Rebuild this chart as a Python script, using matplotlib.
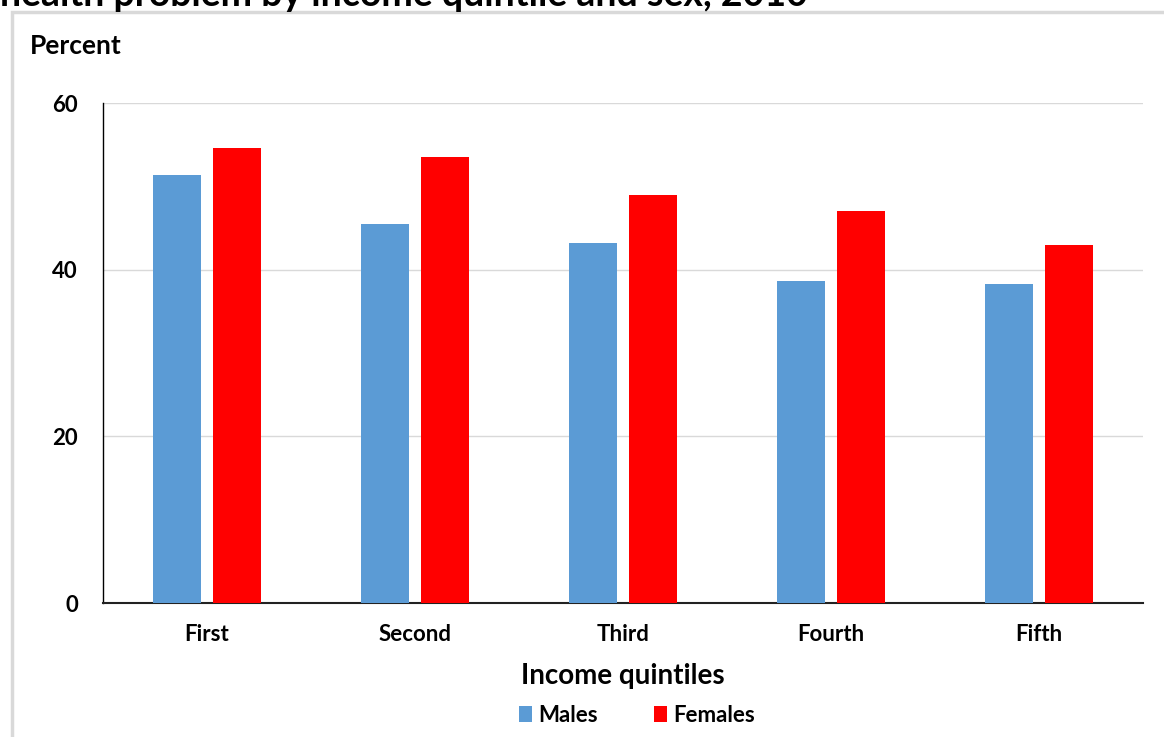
import numpy as np
import matplotlib.pyplot as plt
from matplotlib.patches import Rectangle

plt.rcParams['font.family'] = ['Lato', 'DejaVu Sans']

quintiles = ['First', 'Second', 'Third', 'Fourth', 'Fifth']
males = [51.4, 45.5, 43.2, 38.6, 38.3]
females = [54.6, 53.5, 49.0, 47.0, 43.0]

fig = plt.figure(figsize=(11.64, 7.37), dpi=100)
W, H = 1164, 737

# outer chart frame (cut by the image edges)
fig.patches.append(Rectangle((12 / W, -0.1), 1.2, 1 - 12 / H + 0.1,
                             transform=fig.transFigure, fill=False,
                             edgecolor='#d9d9d9', linewidth=2.5))

# title, cut off at the top like in the original
fig.text(0.0, 1 - 6 / H, 'health problem by income quintile and sex, 2010',
         fontsize=27, fontweight='bold', va='baseline', ha='left')

ax = fig.add_axes([103 / W, 1 - 603 / H, 1040 / W, 500 / H])

x = np.arange(len(quintiles))
w = 0.23
off = 0.144
ax.bar(x - off, males, w, color='#5b9bd5', label='Males', zorder=3)
ax.bar(x + off, females, w, color='#ff0000', label='Females', zorder=3)

ax.set_xlim(-0.5, 4.5)
ax.set_ylim(0, 60)
ax.set_yticks([0, 20, 40, 60])
ax.grid(axis='y', color='#d9d9d9', linewidth=1, zorder=0)
ax.tick_params(axis='y', length=0, pad=18, labelsize=16)
ax.tick_params(axis='x', length=0, pad=15, labelsize=16)
for lab in ax.get_yticklabels() + ax.get_xticklabels():
    lab.set_fontweight('bold')
ax.set_xticks(x)
ax.set_xticklabels(quintiles)

for s in ['top', 'right']:
    ax.spines[s].set_visible(False)
ax.spines['left'].set_color('black')
ax.spines['left'].set_linewidth(1)
ax.spines['bottom'].set_color('#222222')
ax.spines['bottom'].set_linewidth(1.5)

ax.set_xlabel('Income quintiles', fontsize=20, fontweight='bold', labelpad=13)
fig.text(30 / W, 1 - 46 / H, 'Percent', fontsize=19, fontweight='bold',
         va='center', ha='left')

fig.legend(loc='center', bbox_to_anchor=(637 / W, 1 - 715 / H), ncol=2,
           frameon=False, prop={'size': 16, 'weight': 'bold'},
           handlelength=0.6, handleheight=0.7, handletextpad=0.3,
           columnspacing=2.5)

fig.savefig('out.png', dpi=100)
